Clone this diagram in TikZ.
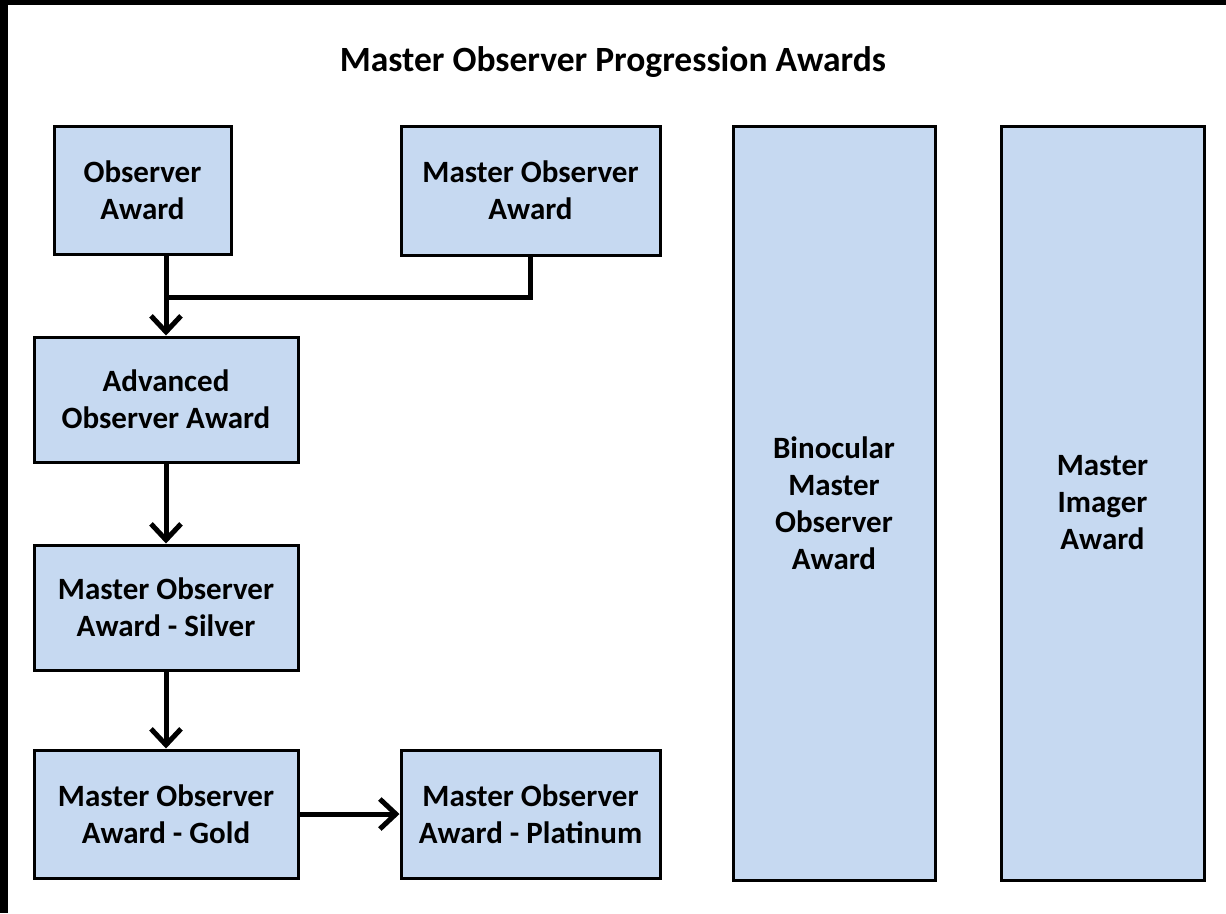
\documentclass[tikz,border=0pt]{standalone}
\usepackage{fontspec}
\setmainfont{Carlito}
\usetikzlibrary{arrows.meta}
\definecolor{boxfill}{RGB}{198,217,241}
\tikzset{
  award/.style={draw=black, line width=3pt, fill=boxfill, rectangle, align=center,
    font=\fontsize{31}{37}\selectfont\bfseries, inner sep=0pt},
  conn/.style={line width=5pt, draw=black},
  arr/.style={conn, -{Straight Barb[length=16pt, width=30pt, line width=5pt]}},
}
\begin{document}
\begin{tikzpicture}[x=1pt, y=-1pt]
\useasboundingbox (0,0) rectangle (1226,913);
\fill[white] (0,0) rectangle (1226,913);
\fill[black] (0,0) rectangle (1226,5);
\fill[black] (0,0) rectangle (8,913);
\node[font=\fontsize{35.5}{42}\selectfont\bfseries] (title) at (613,62) {Master Observer Progression Awards};
\node[award, minimum width=177pt, minimum height=128pt] (obs) at (142.5,190) {Observer\\Award};
\node[award, minimum width=259pt, minimum height=129pt] (mo) at (530.5,190.5) {Master Observer\\Award};
\node[award, minimum width=264pt, minimum height=125pt] (adv) at (166,399.5) {Advanced\\Observer Award};
\node[award, minimum width=264pt, minimum height=125pt] (silver) at (166,607.5) {Master Observer\\Award - Silver};
\node[award, minimum width=264pt, minimum height=128pt] (gold) at (166,814) {Master Observer\\Award - Gold};
\node[award, minimum width=259pt, minimum height=128pt] (plat) at (530.5,814) {Master Observer\\Award - Platinum};
\node[award, minimum width=202pt, minimum height=754pt] (bino) at (834,503) {Binocular\\Master\\Observer\\Award};
\node[award, minimum width=203pt, minimum height=754pt] (imager) at (1102.5,503) {Master\\Imager\\Award};
\coordinate (join) at (166,297);
\draw[conn] (mo.south) -- (mo.south |- join) -- (join);
\draw[arr] (adv.north |- obs.south) -- (adv.north);
\draw[arr] (adv.south) -- (silver.north);
\draw[arr] (silver.south) -- (gold.north);
\draw[arr] (gold.east) -- (plat.west);
\end{tikzpicture}
\end{document}
